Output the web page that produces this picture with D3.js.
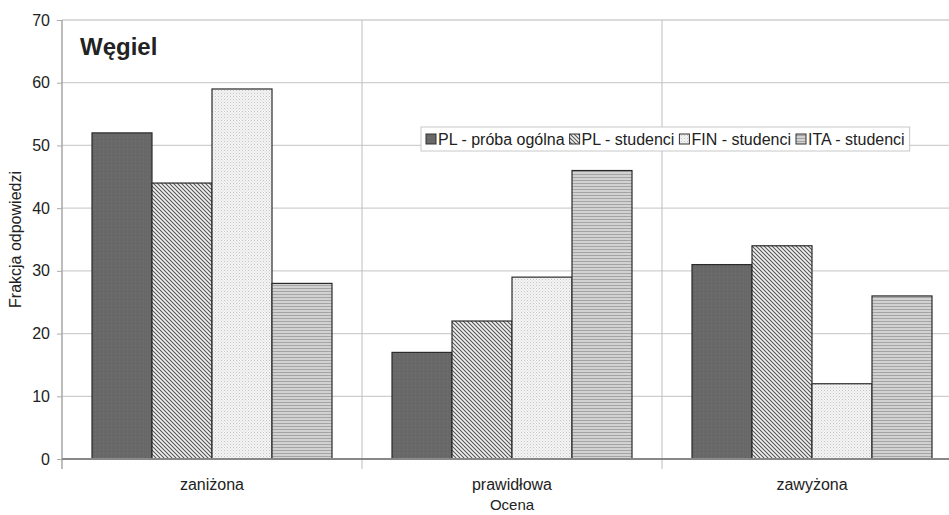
<!DOCTYPE html>
<html>
<head>
<meta charset="utf-8">
<script src="https://cdn.jsdelivr.net/npm/d3@7"></script>
<style>
  body { margin: 0; background: #fff; }
  text { font-family: Arial, "Liberation Sans", sans-serif; fill: #222; }
</style>
</head>
<body>
<div id="chart"></div>
<script>
// Data.
const categories = ["zaniżona", "prawidłowa", "zawyżona"];
const seriesNames = ["PL - próba ogólna", "PL - studenci", "FIN - studenci", "ITA - studenci"];
const plOgolna = [52, 17, 31];
const plStudenci = [44, 22, 34];
const finStudenci = [59, 29, 12];
const itaStudenci = [28, 46, 26];
const yTicks = [0, 10, 20, 30, 40, 50, 60, 70];

const seriesValues = [plOgolna, plStudenci, finStudenci, itaStudenci];

const totalWidth = 949;
const totalHeight = 515;
const margin = {top: 20, left: 62, bottom: 56};

const svg = d3.select("#chart").append("svg")
  .attr("width", totalWidth)
  .attr("height", totalHeight);

// Fill patterns, one per series.
const defs = svg.append("defs");

const p0 = defs.append("pattern").attr("id", "pat0")
  .attr("patternUnits", "userSpaceOnUse").attr("width", 4).attr("height", 4);
p0.append("rect").attr("width", 4).attr("height", 4).attr("fill", "#686868");
p0.append("rect").attr("x", 1).attr("y", 1).attr("width", 1).attr("height", 1).attr("fill", "#747474");

const p1 = defs.append("pattern").attr("id", "pat1")
  .attr("patternUnits", "userSpaceOnUse").attr("width", 4).attr("height", 4);
p1.append("rect").attr("width", 4).attr("height", 4).attr("fill", "#f2f2f2");
p1.append("path").attr("d", "M-1,-1 L5,5 M-1,3 L1,5 M3,-1 L5,1")
  .attr("stroke", "#555").attr("stroke-width", 1.1);

const p2 = defs.append("pattern").attr("id", "pat2")
  .attr("patternUnits", "userSpaceOnUse").attr("width", 3).attr("height", 3);
p2.append("rect").attr("width", 3).attr("height", 3).attr("fill", "#f4f4f4");
p2.append("rect").attr("x", 0).attr("y", 0).attr("width", 1).attr("height", 1).attr("fill", "#c4c4c4");
p2.append("rect").attr("x", 1.5).attr("y", 1.5).attr("width", 1).attr("height", 1).attr("fill", "#d4d4d4");

const p3 = defs.append("pattern").attr("id", "pat3")
  .attr("patternUnits", "userSpaceOnUse").attr("width", 6).attr("height", 3);
p3.append("rect").attr("width", 6).attr("height", 3).attr("fill", "#d2d2d2");
p3.append("rect").attr("y", 0).attr("width", 6).attr("height", 1).attr("fill", "#a4a4a4");

const fills = ["url(#pat0)", "url(#pat1)", "url(#pat2)", "url(#pat3)"];

// Scales.
const x0 = d3.scaleBand().domain(categories).range([margin.left, 962]).padding(0);
const x1 = d3.scaleBand().domain(d3.range(seriesNames.length))
  .range([0, x0.bandwidth()]).paddingInner(0).paddingOuter(0.5);
const y = d3.scaleLinear().domain([0, 70]).range([totalHeight - margin.bottom, margin.top]);

// Horizontal gridlines.
svg.append("g")
  .selectAll("line")
  .data(yTicks.filter(d => d > 0))
  .join("line")
    .attr("x1", margin.left).attr("x2", totalWidth)
    .attr("y1", d => y(d)).attr("y2", d => y(d))
    .attr("stroke", "#cfcfcf").attr("stroke-width", 1.3);

// Vertical separators between categories.
svg.append("g")
  .selectAll("line")
  .data(categories.slice(1))
  .join("line")
    .attr("x1", d => x0(d)).attr("x2", d => x0(d))
    .attr("y1", margin.top).attr("y2", y(0) + 10)
    .attr("stroke", "#bdbdbd").attr("stroke-width", 1);

// Y axis.
const yAxis = svg.append("g")
  .attr("transform", `translate(${margin.left},0)`)
  .call(d3.axisLeft(y).tickValues(yTicks).tickSize(5).tickPadding(7));
yAxis.select(".domain").attr("stroke", "#999").attr("stroke-width", 1.3)
  .attr("d", `M0,${y(70)}V${y(0) + 10}`);
yAxis.selectAll(".tick line").attr("stroke", "#aaa");
yAxis.selectAll(".tick text").style("font-size", "16px").attr("fill", "#222")
  .style("font-family", "Arial, 'Liberation Sans', sans-serif");

// Bars.
svg.append("g")
  .selectAll("g")
  .data(categories)
  .join("g")
    .attr("transform", d => `translate(${x0(d)},0)`)
  .selectAll("rect")
  .data((d, i) => seriesValues.map((vals, s) => ({s, value: vals[i]})))
  .join("rect")
    .attr("x", d => x1(d.s))
    .attr("y", d => y(d.value))
    .attr("width", x1.bandwidth())
    .attr("height", d => y(0) - y(d.value))
    .attr("fill", d => fills[d.s])
    .attr("stroke", "#2a2a2a")
    .attr("stroke-width", 1.2);

// X axis line.
svg.append("line")
  .attr("x1", margin.left).attr("x2", totalWidth)
  .attr("y1", y(0)).attr("y2", y(0))
  .attr("stroke", "#888").attr("stroke-width", 2);

// Category labels.
svg.append("g")
  .selectAll("text")
  .data(categories)
  .join("text")
    .attr("x", d => x0(d) + x0.bandwidth() / 2)
    .attr("y", 490)
    .attr("text-anchor", "middle")
    .style("font-size", "16px")
    .text(d => d);

// Axis titles.
svg.append("text")
  .attr("x", 362 + 150).attr("y", 510)
  .attr("text-anchor", "middle")
  .style("font-size", "15px")
  .text("Ocena");

svg.append("text")
  .attr("transform", `translate(21,${(y(0) + y(70)) / 2}) rotate(-90)`)
  .attr("text-anchor", "middle")
  .style("font-size", "16px")
  .text("Frakcja odpowiedzi");

// Chart title.
svg.append("text")
  .attr("x", 80).attr("y", 55)
  .style("font-size", "24px")
  .style("font-weight", "bold")
  .attr("fill", "#111")
  .text("Węgiel");

// Legend.
const legend = svg.append("g");
const legendBox = legend.append("rect")
  .attr("fill", "#fff").attr("stroke", "#c8c8c8").attr("stroke-width", 1);
let lx = 426;
const ly = 139;
seriesNames.forEach((name, i) => {
  legend.append("rect")
    .attr("x", lx).attr("y", ly - 5)
    .attr("width", 10).attr("height", 10)
    .attr("fill", fills[i]).attr("stroke", "#333").attr("stroke-width", 1);
  const t = legend.append("text")
    .attr("x", lx + 12).attr("y", ly + 6)
    .style("font-size", "16px")
    .text(name);
  lx += 12 + t.node().getComputedTextLength() + 5;
});
legendBox.attr("x", 421).attr("y", ly - 12).attr("width", lx - 421).attr("height", 24);
</script>
</body>
</html>
